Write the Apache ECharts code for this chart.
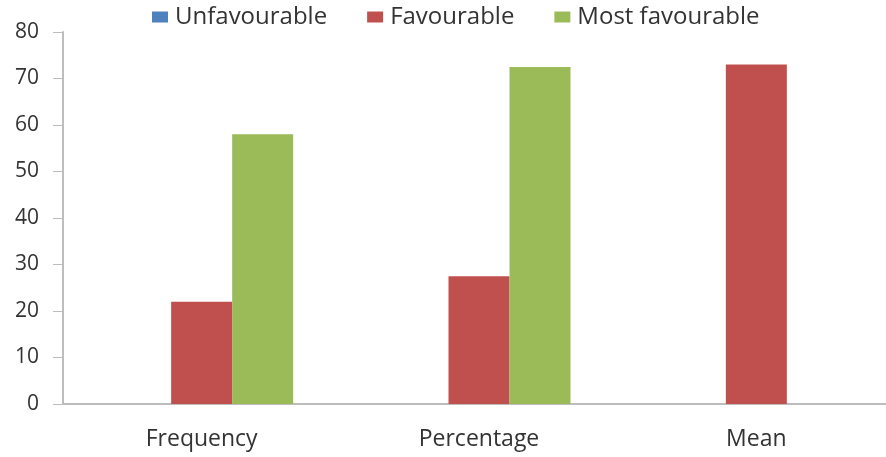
<!DOCTYPE html>
<html>
<head>
<meta charset="utf-8">
<script src="https://cdn.jsdelivr.net/npm/echarts@6/dist/echarts.min.js"></script>
<style>
html, body { margin: 0; padding: 0; background: #fff; overflow: hidden; }
/* the plot area continues a little past the right edge of the window */
#chart { width: 895px; height: 457px; }
</style>
</head>
<body>
<div id="chart"></div>
<script>
// Categories and series values
const categories = ['Frequency', 'Percentage', 'Mean'];
const unfavourable = [0, 0, 0];
const favourable = [22, 27.5, 73];
const mostFavourable = [58, 72.5, 0];
const yTicks = { min: 0, max: 80, interval: 10 };

const font = '"Open Sans", sans-serif';
const textColor = '#333333';
const axisColor = '#bdbdbd';
const chart = echarts.init(document.getElementById('chart'), null, { renderer: 'canvas' });

function barSeries(name, data, color) {
  return {
    name: name,
    type: 'bar',
    data: data,
    barWidth: 61,
    barGap: '0%',
    itemStyle: { color: color },
    emphasis: { disabled: true }
  };
}

chart.setOption({
  animation: false,
  textStyle: { fontFamily: font },
  legend: {
    top: 0,
    left: 147,
    itemWidth: 16,
    itemHeight: 11,
    itemGap: 40,
    icon: 'rect',
    textStyle: { fontSize: 24, color: textColor, fontFamily: font, padding: [0, 0, 0, 2] },
    data: ['Unfavourable', 'Favourable', 'Most favourable']
  },
  grid: { left: 63, right: 0, top: 32, bottom: 53, containLabel: false },
  xAxis: {
    type: 'category',
    data: categories,
    axisLine: { lineStyle: { color: axisColor, width: 2 } },
    axisTick: { show: false },
    axisLabel: { fontSize: 23, color: textColor, margin: 24, fontFamily: font }
  },
  yAxis: {
    type: 'value',
    min: yTicks.min,
    max: yTicks.max,
    interval: yTicks.interval,
    splitLine: { show: false },
    axisLine: { show: true, lineStyle: { color: axisColor, width: 2 } },
    axisTick: { show: true, length: 10, lineStyle: { color: axisColor, width: 1 } },
    axisLabel: { fontSize: 21, color: textColor, margin: 24, fontFamily: font }
  },
  series: [
    barSeries('Unfavourable', unfavourable, '#4f81bd'),
    barSeries('Favourable', favourable, '#c0504d'),
    barSeries('Most favourable', mostFavourable, '#9bbb59')
  ]
});
</script>
</body>
</html>
